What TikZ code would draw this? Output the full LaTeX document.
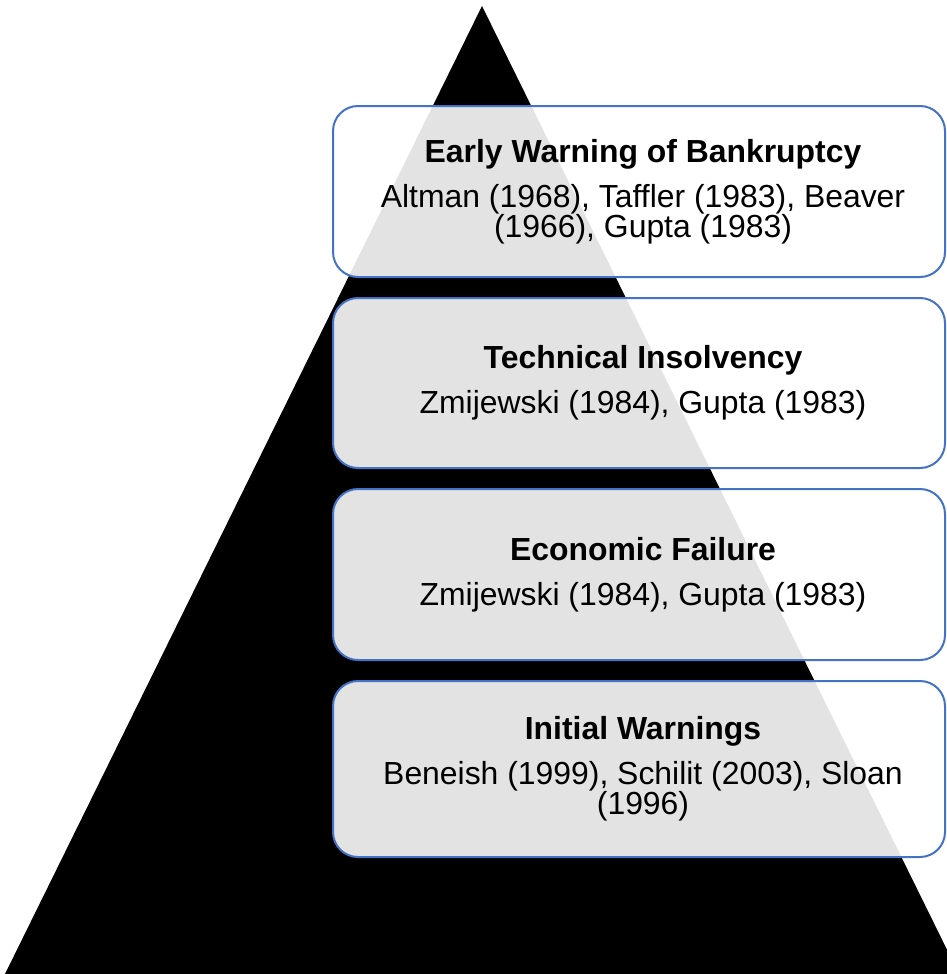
\documentclass[tikz,border=0pt]{standalone}
\usepackage{fontspec}
\setmainfont{Liberation Sans}
\definecolor{cardblue}{HTML}{4472C4}
\begin{document}
\begin{tikzpicture}[x=1pt,y=1pt,
  card/.style={draw=cardblue, line width=2pt, rounded corners=25pt, fill=white,
    fill opacity=0.89, minimum width=612pt, inner sep=0pt},
  cardtext/.style={text=black, inner sep=0pt, align=center,
    font=\fontsize{31.9}{30}\selectfont}]
\useasboundingbox (0,0) rectangle (947,-974);
\clip (0,0) rectangle (947,-974);
\fill[black] (482,-6) -- (959,-974) -- (5,-974) -- cycle;
\node[card, minimum height=171pt] (b1) at (639,-191.5) {};
\node[card, minimum height=170pt] (b2) at (639,-383) {};
\node[card, minimum height=171pt] (b3) at (639,-574.5) {};
\node[card, minimum height=176pt] (b4) at (639,-769) {};
\node[cardtext] (t1) at ([xshift=4pt]b1.center)
  {{\bfseries Early Warning of Bankruptcy}\\[15pt]
   Altman (1968), Taffler (1983), Beaver\\ (1966), Gupta (1983)};
\node[cardtext] (t2) at ([xshift=4pt]b2.center)
  {{\bfseries Technical Insolvency}\\[15pt]
   Zmijewski (1984), Gupta (1983)};
\node[cardtext] (t3) at ([xshift=4pt]b3.center)
  {{\bfseries Economic Failure}\\[15pt]
   Zmijewski (1984), Gupta (1983)};
\node[cardtext] (t4) at ([xshift=4pt]b4.center)
  {{\bfseries Initial Warnings}\\[15pt]
   Beneish (1999), Schilit (2003), Sloan\\ (1996)};
\end{tikzpicture}
\end{document}
